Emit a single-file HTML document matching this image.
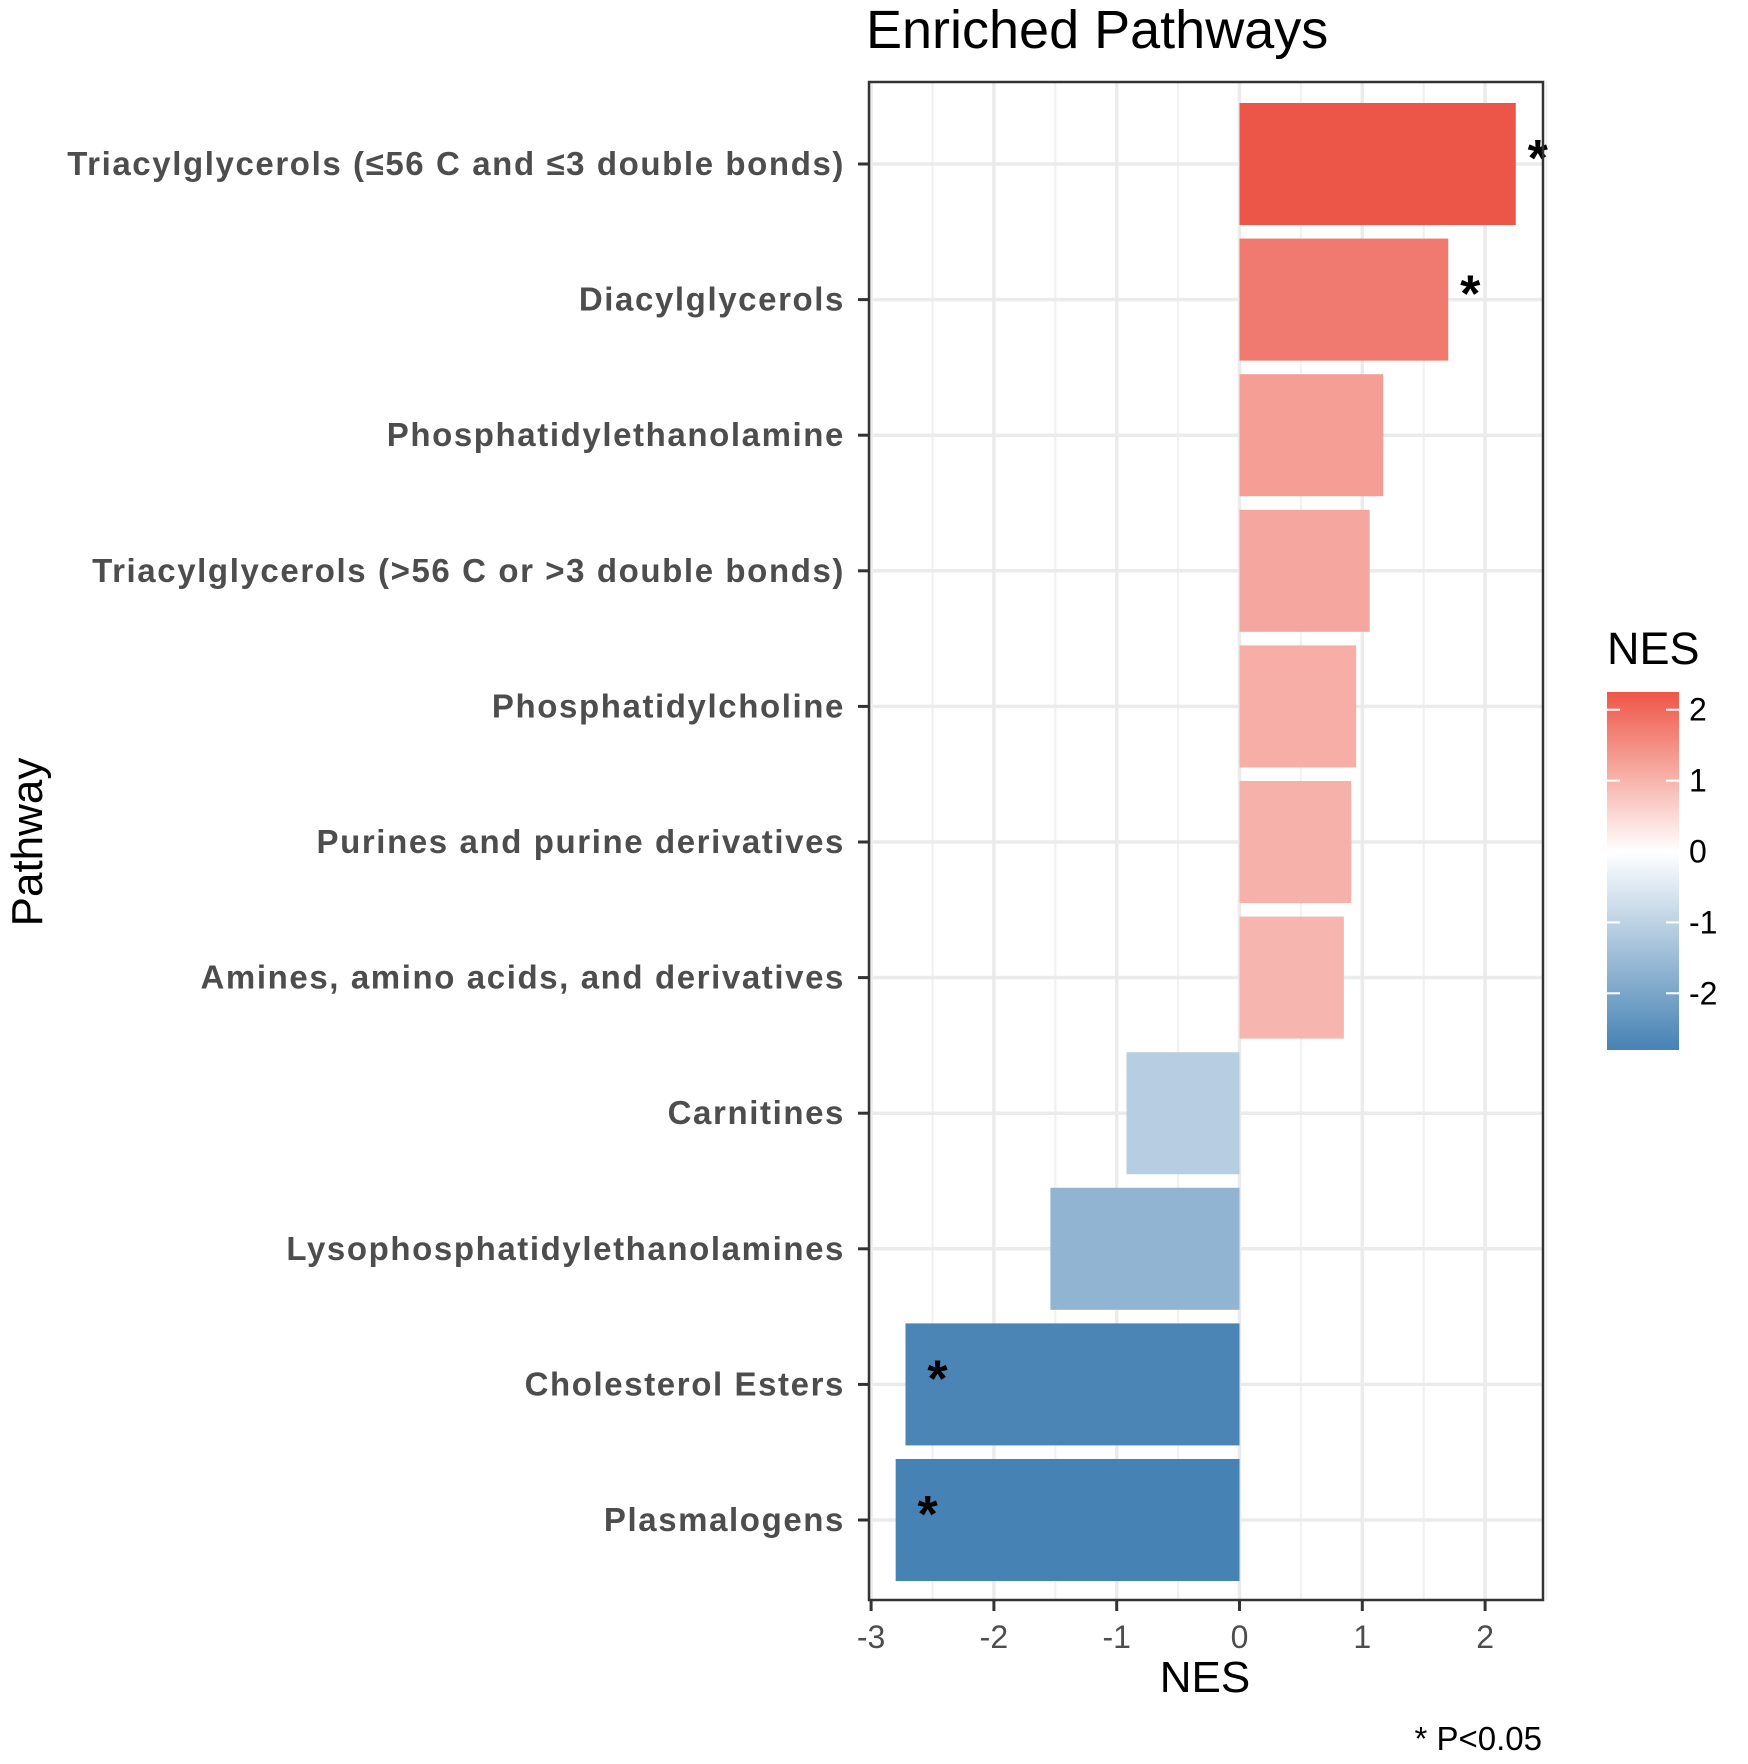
<!DOCTYPE html>
<html><head><meta charset="utf-8"><style>
html,body{margin:0;padding:0;background:#fff;}
svg{display:block;font-family:"Liberation Sans",Arial,sans-serif;}
</style></head><body>
<svg id="chart" width="1748" height="1764" viewBox="0 0 1748 1764" xmlns="http://www.w3.org/2000/svg">
<defs>
<linearGradient id="nesGrad" x1="0" y1="1" x2="0" y2="0">
<stop offset="0" stop-color="#4682B4"/>
<stop offset="0.554" stop-color="#ffffff"/>
<stop offset="1" stop-color="#EE5646"/>
</linearGradient>
</defs>
<text x="866" y="48" font-size="54" fill="#000">Enriched Pathways</text>
<g id="plot"></g>
<text x="0" y="0" transform="translate(42,842) rotate(-90)" text-anchor="middle" font-size="44" fill="#000">Pathway</text>
<text x="1205" y="1692" text-anchor="middle" font-size="44" fill="#000">NES</text>
<text x="1542" y="1750" text-anchor="end" font-size="33" fill="#000">* P&lt;0.05</text>
<g id="legend">
<text x="1607" y="664" font-size="45" fill="#000">NES</text>
</g>
</svg>
<script>
const categories = ["Triacylglycerols (\u226456 C and \u22643 double bonds)","Diacylglycerols","Phosphatidylethanolamine","Triacylglycerols (>56 C or >3 double bonds)","Phosphatidylcholine","Purines and purine derivatives","Amines, amino acids, and derivatives","Carnitines","Lysophosphatidylethanolamines","Cholesterol Esters","Plasmalogens"];
const nesValues = [2.25, 1.70, 1.17, 1.06, 0.95, 0.91, 0.85, -0.92, -1.54, -2.72, -2.80];
const significant = [true, true, false, false, false, false, false, false, false, true, true];
const xTicks = [-3, -2, -1, 0, 1, 2];
const xTickLabels = ["-3","-2","-1","0","1","2"];
const legendTicks = [2, 1, 0, -1, -2];
const legendTickLabels = ["2","1","0","-1","-2"];

const NS = "http://www.w3.org/2000/svg";
const P = {l:869, r:1543, t:82, b:1600};
const X0 = 1239.5, XU = 122.8;
function xs(v){ return X0 + v*XU; }
const rowTop = 164, rowStep = (1520-164)/(categories.length-1);
function ys(i){ return rowTop + i*rowStep; }
function mk(tag, attrs, parent){ const e=document.createElementNS(NS,tag); for(const k in attrs) e.setAttribute(k, attrs[k]); parent.appendChild(e); return e; }
const lo=[70,130,180], mid=[255,255,255], hi=[236,86,72];
const vmin = Math.min(...nesValues), vmax = Math.max(...nesValues);
function col(v){
  let a,b,t;
  if(v>=0){a=mid;b=hi;t=v/vmax;} else {a=mid;b=lo;t=v/vmin;}
  t = Math.pow(t, 0.85);
  const c=a.map((x,i)=>Math.round(x+(b[i]-x)*t));
  return "rgb("+c.join(",")+")";
}
const plot = document.getElementById("plot");
mk("rect",{x:P.l,y:P.t,width:P.r-P.l,height:P.b-P.t,fill:"#fff"},plot);
for(let v=-2.5; v<=2.5; v+=1){
  const g=mk("line",{x1:xs(v),x2:xs(v),y1:P.t,y2:P.b,stroke:"#f0f0f0","stroke-width":2},plot);
  
  
}
xTicks.forEach((v,i)=>{
  const g=mk("line",{x1:xs(v),x2:xs(v),y1:P.t,y2:P.b,stroke:"#ebebeb","stroke-width":3.5},plot);
  
  
  const tk=mk("line",{x1:xs(v),x2:xs(v),y1:P.b,y2:P.b+11,stroke:"#333","stroke-width":3},plot);
  
  
  const t=mk("text",{x:xs(v),y:P.b+48,"text-anchor":"middle","font-size":32,fill:"#4d4d4d"},plot);
  t.textContent=xTickLabels[i];
  
  
});
const barH = rowStep*0.9;
categories.forEach((c,i)=>{
  const y=ys(i);
  const g=mk("line",{x1:P.l,x2:P.r,y1:y,y2:y,stroke:"#ebebeb","stroke-width":3.5},plot);
  
  
});
categories.forEach((c,i)=>{
  const y=ys(i), v=nesValues[i];
  const x1=Math.min(xs(0),xs(v)), w=Math.abs(xs(v)-xs(0));
  const b=mk("rect",{x:x1,y:y-barH/2,width:w,height:barH,fill:col(v)},plot);
  
  
  if(significant[i]){
    const ax = v>=0 ? xs(v)+22 : xs(v)+32;
    const s=mk("text",{x:ax,y:y+12,"text-anchor":"middle","font-size":52,"font-weight":"bold",fill:"#000"},plot);
    s.textContent="*";
    
    
  }
  const tk=mk("line",{x1:P.l-11,x2:P.l,y1:y,y2:y,stroke:"#333","stroke-width":3},plot);
  
  
  const t=mk("text",{x:845,y:y+11,"text-anchor":"end","font-size":33,"font-weight":"bold","letter-spacing":1.6,fill:"#4d4d4d"},plot);
  t.textContent=c;
  
  
});
const frame=mk("rect",{x:P.l,y:P.t,width:P.r-P.l,height:P.b-P.t,fill:"none",stroke:"#333","stroke-width":2.5},plot);


const leg=document.getElementById("legend");
const LT=692, LB=1050, LX=1607, LW=72;
function ly(v){ return LT + (vmax - v)/(vmax - vmin)*(LB-LT); }
const grad=document.querySelector("#nesGrad stop:nth-child(2)");
grad.setAttribute("offset", ((0-vmin)/(vmax-vmin)).toFixed(3));
const cb=mk("rect",{x:LX,y:LT,width:LW,height:LB-LT,fill:"url(#nesGrad)"},leg);


legendTicks.forEach((v,i)=>{
  const y=ly(v);
  mk("line",{x1:LX,x2:LX+13,y1:y,y2:y,stroke:"#fff","stroke-width":2},leg);
  mk("line",{x1:LX+LW-13,x2:LX+LW,y1:y,y2:y,stroke:"#fff","stroke-width":2},leg);
  const t=mk("text",{x:LX+LW+10,y:y+11,"font-size":32,fill:"#000"},leg);
  t.textContent=legendTickLabels[i];
  
  
});
</script>
</body></html>
